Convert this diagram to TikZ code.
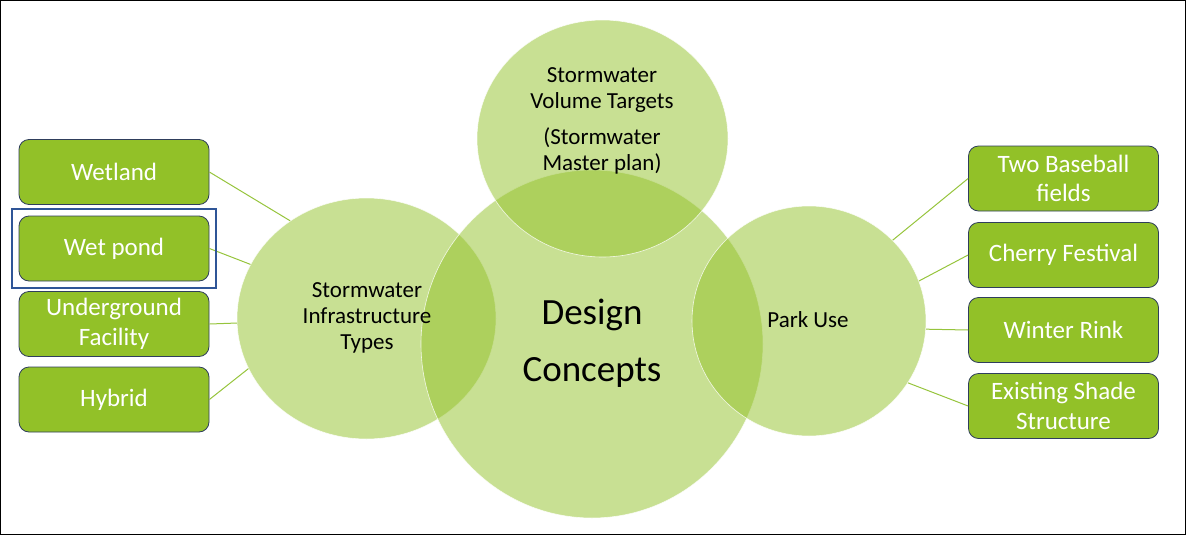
\documentclass[tikz,border=0pt]{standalone}
\usepackage{fontspec}
\setmainfont{Carlito}
\usetikzlibrary{shapes.geometric,fit}
\definecolor{leafgreen}{RGB}{146,193,40}
\definecolor{boxline}{RGB}{47,62,92}
\definecolor{selblue}{RGB}{47,85,151}
\definecolor{linkgreen}{RGB}{150,196,60}

\begin{document}
\begin{tikzpicture}[%
	x=1pt, y=-1pt,%
	bubble/.style ={ellipse, inner sep=0pt, fill=leafgreen, fill opacity=.5, draw=white, draw opacity=.8, line width=.6pt},%
	bubbletext/.style ={black, align=center, font=\fontsize{23}{26}\selectfont},%
	item/.style ={rectangle, rounded corners=10pt, fill=leafgreen, draw=boxline, line width=.8pt, minimum width=190pt, minimum height=65pt, text=white, align=center, font=\fontsize{25}{29.5}\selectfont},%
	link/.style ={linkgreen, line width=1pt},%
	selframe/.style ={rectangle, draw=selblue, line width=2pt, inner sep=6.5pt},%
	]
%%% frame
	\useasboundingbox (0,0) rectangle (1187,536);
	\draw [line width=1pt] (.5,.5) rectangle (1185.5,534.5);
%%% frame
%%% bubbles
	\node [bubble, minimum width=259pt, minimum height=241pt] (infra) at (366.5,318.5) {};
	\node [bubble, minimum width=342pt, minimum height=348pt] (design) at (592,344) {};
	\node [bubble, minimum width=251pt, minimum height=237pt] (volume) at (602.5,138.5) {};
	\node [bubble, minimum width=234pt, minimum height=230pt] (park) at (809,321) {};
%%% bubbles
%%% texts
	\node [bubbletext] (infratext) at (367,318) {Stormwater\\Infrastructure\\Types};
	\node [bubbletext, font=\fontsize{37}{57}\selectfont] (designtext) at (592,343) {Design\\Concepts};
	\node [bubbletext] (volumetext) at (602,121) {Stormwater\\Volume Targets\\[10pt](Stormwater\\Master plan)};
	\node [bubbletext] (parktext) at (808,320) {Park Use};
%%% texts
%%% left items
	\foreach \i/\y/\a/\txt in {1/172/128/Wetland, 2/248.5/155/Wet pond, 3/324/182/{Underground\\Facility}, 4/399.5/203/Hybrid}
		{\node [item] (left\i) at (114,\y) {\txt};
		 \draw [link] (left\i.east) -- (infra.\a);}
	\node [selframe, fit=(left2)] (pick) {};
%%% left items
%%% right items
	\foreach \i/\y/\a/\txt in {1/178.5/44/{Two Baseball\\fields}, 2/255/20/Cherry Festival, 3/330/-4/Winter Rink, 4/406/-32/{Existing Shade\\Structure}}
		{\node [item] (right\i) at (1063.5,\y) {\txt};
		 \draw [link] (right\i.west) -- (park.\a);}
%%% right items
\end{tikzpicture}
\end{document}
